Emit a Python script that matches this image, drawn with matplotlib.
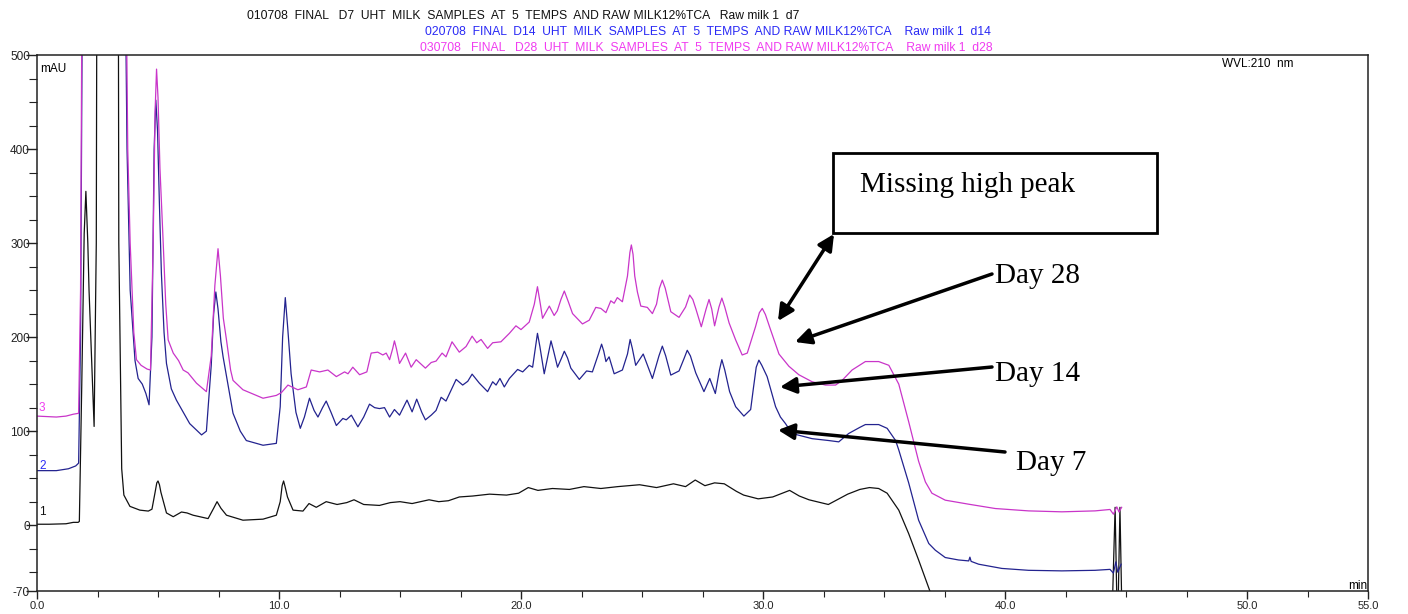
import matplotlib
matplotlib.use("Agg")
import matplotlib.pyplot as plt
from matplotlib.patches import Rectangle
from matplotlib.ticker import MultipleLocator, FixedLocator

# ---------------- data (time in min, absorbance in mAU) ----------------
t_d7 = [0.0, 0.5, 1.2, 1.5, 1.7, 1.75, 1.85, 1.95, 2.02, 2.1, 2.15, 2.36, 2.45, 2.55, 3.3, 3.38,
        3.5, 3.59, 3.84, 4.25, 4.6, 4.75, 4.88, 4.95, 5.0, 5.06, 5.12, 5.35, 5.63, 5.97, 6.2, 6.45,
        7.07, 7.3, 7.44, 7.6, 7.83, 8.51, 9.34, 9.89, 10.05, 10.13, 10.19, 10.26, 10.35, 10.58,
        10.99, 11.24, 11.54, 11.95, 12.4, 12.8, 13.1, 13.5, 14.15, 14.6, 15.0, 15.5, 16.2, 16.6,
        17.0, 17.45, 18.0, 18.7, 19.4, 19.9, 20.3, 20.7, 21.3, 22.0, 22.6, 23.3, 24.0, 24.9, 25.6,
        26.3, 26.8, 27.2, 27.6, 28.0, 28.4, 28.9, 29.2, 29.8, 30.4, 31.1, 31.5, 31.9, 32.7, 33.5,
        34.0, 34.4, 34.78, 35.13, 35.61, 36.02, 36.43, 36.91, 37.2, 44.4, 44.55, 44.65, 44.75,
        44.85]
v_d7 = [1, 1, 1.5, 3, 3, 4, 150, 310, 355, 300, 250, 105, 300, 1500, 1500, 300,
        60, 32, 20, 16, 15, 17, 35, 45, 47, 43, 35, 13, 9, 14, 13, 10.6,
        7, 18, 25, 18, 10.6, 5.3, 6.4, 10.6, 25, 42, 47, 40, 30, 16,
        15, 23, 19, 25, 22, 24, 27, 22, 21, 24, 25, 23, 27, 25,
        26, 30, 31, 33, 32, 34, 40, 37, 39, 38, 41, 39, 41, 43, 40,
        44, 41, 48, 42, 45, 44, 36, 32, 28, 30, 37, 31, 27, 22, 33,
        38, 40, 39, 34, 16, -9, -37, -71, -120, -120, 19, -120, 19,
        -120]

t_d14 = [0.0, 0.8, 1.3, 1.6, 1.72, 1.8, 1.9, 3.6, 3.72, 3.85, 4.05, 4.18, 4.35, 4.5, 4.63, 4.75,
         4.84, 4.91, 4.98, 5.06, 5.14, 5.25, 5.35, 5.55, 5.76, 6.31, 6.8, 7.0, 7.2, 7.3, 7.39, 7.48,
         7.6, 7.69, 8.1, 8.4, 8.65, 9.34, 9.89, 10.05, 10.15, 10.26, 10.36, 10.5, 10.7, 10.88, 11.05,
         11.26, 11.45, 11.61, 11.8, 11.95, 12.15, 12.37, 12.64, 12.78, 12.99, 13.26, 13.5, 13.74,
         13.95, 14.15, 14.36, 14.57, 14.77, 14.98, 15.29, 15.5, 15.69, 15.9, 16.05, 16.29, 16.49,
         16.7, 16.9, 17.1, 17.32, 17.59, 17.8, 17.98, 18.28, 18.62, 18.83, 18.97, 19.13, 19.31,
         19.52, 19.86, 20.07, 20.34, 20.48, 20.6, 20.68, 20.78, 20.96, 21.15, 21.24, 21.35, 21.51,
         21.68, 21.79, 21.92, 22.06, 22.41, 22.71, 22.95, 23.2, 23.33, 23.42, 23.51, 23.64, 23.85,
         24.19, 24.4, 24.51, 24.6, 24.74, 25.05, 25.43, 25.7, 25.84, 25.98, 26.19, 26.53, 26.75,
         26.87, 27.0, 27.22, 27.56, 27.8, 28.03, 28.2, 28.3, 28.42, 28.62, 28.87, 29.21, 29.49,
         29.6, 29.72, 29.83, 29.95, 30.17, 30.52, 30.72, 30.93, 31.2, 32.03, 32.72, 33.13, 33.54,
         34.0, 34.23, 34.78, 35.13, 35.48, 35.61, 36.02, 36.43, 36.85, 37.12, 37.53, 38.08, 38.5,
         38.55, 38.6, 38.91, 39.87, 40.97, 42.35, 43.72, 44.34, 44.48, 44.58, 44.66, 44.8]
v_d14 = [58, 58, 60, 63, 66, 200, 700, 700, 400, 250, 175, 156, 150, 140, 128, 200,
         400, 452, 420, 340, 268, 205, 172, 145, 133, 108, 96, 100, 170, 225, 248, 230,
         195, 179, 119, 100, 90, 85, 87, 126, 200, 242, 210, 161, 120, 103, 115,
         135, 122, 115, 125, 132, 120, 106, 113.5, 112, 117, 104.6, 115, 128.7,
         125, 124, 125, 115, 123, 117, 133, 120.5, 134, 120, 112, 117, 122,
         136, 132, 143, 155, 149, 153, 160.6, 151, 142, 152.5, 149, 156, 147,
         156, 165.6, 163, 170, 168, 190, 204, 190, 161, 185, 196, 185, 168,
         178, 185, 178, 167, 155, 164, 163, 182, 192.5, 185, 174, 179, 161,
         165, 182, 197.5, 188, 170, 182, 156, 180, 190.4, 180, 159.6, 164, 178,
         186, 180, 162, 142, 156, 140, 165, 176, 165, 142, 126, 116, 123,
         145, 168, 175.5, 170, 158, 126, 115, 108, 97.5, 92, 90, 88.6, 97.5,
         104, 107, 107, 103, 90, 80, 45, 5.3, -19.5, -26.6, -34.4, -37, -38,
         -34, -38.5, -41.5, -46, -48, -48.6, -48, -47, -51, -39, -50, -41.5]

t_d28 = [0.0, 0.8, 1.2, 1.5, 1.72, 1.8, 1.9, 3.6, 3.75, 3.85, 4.0, 4.11, 4.3, 4.55, 4.69, 4.8,
         4.88, 4.94, 5.0, 5.08, 5.21, 5.32, 5.42, 5.63, 5.85, 6.04, 6.24, 6.59, 7.0, 7.2, 7.35, 7.48,
         7.58, 7.7, 7.83, 8.0, 8.1, 8.51, 9.34, 9.89, 10.1, 10.37, 10.78, 11.13, 11.33, 11.68, 12.02,
         12.37, 12.71, 12.85, 13.05, 13.33, 13.63, 13.81, 14.08, 14.29, 14.43, 14.57, 14.7, 14.77,
         14.85, 14.98, 15.23, 15.46, 15.67, 16.05, 16.29, 16.49, 16.74, 16.9, 17.15, 17.45, 17.73,
         17.98, 18.17, 18.35, 18.62, 18.83, 19.17, 19.52, 19.79, 20.0, 20.34, 20.55, 20.68, 20.8,
         20.89, 21.17, 21.37, 21.5, 21.65, 21.79, 21.95, 22.13, 22.54, 22.82, 23.09, 23.3, 23.51,
         23.71, 23.85, 23.98, 24.19, 24.4, 24.5, 24.56, 24.63, 24.7, 24.81, 24.95, 25.22, 25.43,
         25.6, 25.72, 25.84, 25.96, 26.19, 26.53, 26.8, 26.97, 27.1, 27.22, 27.45, 27.65, 27.77,
         27.88, 28.0, 28.18, 28.3, 28.42, 28.6, 28.87, 29.14, 29.35, 29.69, 29.85, 29.97, 30.1,
         30.31, 30.66, 31.07, 31.48, 32.03, 32.58, 33.0, 33.27, 33.68, 34.23, 34.78, 35.2, 35.61,
         36.02, 36.43, 36.71, 36.98, 37.53, 38.5, 39.6, 40.97, 42.35, 43.72, 44.34, 44.48, 44.62,
         44.71, 44.82]
v_d28 = [116, 115, 116, 118, 119, 250, 800, 800, 400, 300, 205, 176, 170, 166, 165, 300,
         440, 485, 455, 380, 303, 235, 197, 183, 175, 165, 162, 151, 142, 180, 255, 294,
         265, 220, 197, 165, 154, 144, 135, 138, 141, 149, 144, 147, 165, 163, 165,
         158, 163, 161, 168, 160, 163, 183, 184, 181, 183, 176, 188, 196,
         188, 172, 183, 168, 176, 167, 173, 174.5, 183, 179, 195, 184, 190,
         201, 194, 197.5, 188, 194, 195, 204, 212, 208, 216, 235, 253.6, 235,
         220, 233, 223, 228, 240, 249, 238, 225, 214, 218, 231.6, 230.5, 226,
         238.6, 236, 242, 237.6, 265, 290, 298, 288, 265, 248, 233, 231.6, 225,
         235, 252, 260.6, 252, 227, 221, 232, 244.7, 240, 230.5, 211, 230, 240,
         230, 212, 232, 241.5, 232, 215, 197, 181, 183, 211, 226, 230.5, 224,
         208, 182, 169, 160, 152.5, 149, 149, 154, 165, 174, 174, 170, 150,
         110, 68, 46, 34, 26.6, 22.3, 17.7, 15.2, 14.2, 15.2, 16.7, 11.7, 19.5,
         14, 19]

x_ticks_major = [0, 10, 20, 30, 40, 50, 55]
x_tick_labels = ["0.0", "10.0", "20.0", "30.0", "40.0", "50.0", "55.0"]
y_ticks_major = [-70, 0, 100, 200, 300, 400, 500]
y_tick_labels = ["-70", "0", "100", "200", "300", "400", "500"]

header_lines = [
    "010708  FINAL   D7  UHT  MILK  SAMPLES  AT  5  TEMPS  AND RAW MILK12%TCA   Raw milk 1  d7",
    "020708  FINAL  D14  UHT  MILK  SAMPLES  AT  5  TEMPS  AND RAW MILK12%TCA    Raw milk 1  d14",
    "030708   FINAL   D28  UHT  MILK  SAMPLES  AT  5  TEMPS  AND RAW MILK12%TCA    Raw milk 1  d28",
]
trace_ids = ["1", "2", "3"]

# ---------------- styling ----------------
W, H = 1408, 614
c_black, c_blue, c_mag = "#111111", "#23238f", "#c935c9"
hdr_colors = ["#111111", "#2a2af5", "#f03cf0"]
sans = ["Liberation Sans", "DejaVu Sans"]
serif = ["Liberation Serif", "DejaVu Serif"]

def fx(px):
    return px / W

def fy(py):
    return 1 - py / H

fig = plt.figure(figsize=(W / 100, H / 100), dpi=100)
ax = fig.add_axes([fx(37), fy(591), fx(1368) - fx(37), fy(55) - fy(591)])

ax.plot(t_d7, v_d7, color=c_black, lw=0.9)
ax.plot(t_d14, v_d14, color=c_blue, lw=0.9)
ax.plot(t_d28, v_d28, color=c_mag, lw=0.9)

ax.set_xlim(0, 55)
ax.set_ylim(-70, 500)
ax.xaxis.set_major_locator(FixedLocator(x_ticks_major))
ax.set_xticklabels(x_tick_labels)
ax.xaxis.set_minor_locator(MultipleLocator(2.5))
ax.yaxis.set_major_locator(FixedLocator(y_ticks_major))
ax.set_yticklabels(y_tick_labels)
ax.yaxis.set_minor_locator(MultipleLocator(25))
ax.tick_params(axis="y", which="major", direction="out", length=8, width=1.0,
               labelsize=8.5, colors="#222222", pad=-3)
ax.tick_params(axis="y", which="minor", direction="out", length=6, width=0.8, colors="#222222")
ax.tick_params(axis="x", which="major", direction="out", length=6, width=1.0,
               labelsize=8, colors="#222222", pad=1)
ax.tick_params(axis="x", which="minor", direction="out", length=4, width=0.8, colors="#222222")
for lab in ax.get_xticklabels() + ax.get_yticklabels():
    lab.set_family(sans)
for s in ax.spines.values():
    s.set_linewidth(1.1)
    s.set_color("#222222")

# axis inner labels
ax.text(0.002, 0.985, "mAU", transform=ax.transAxes, ha="left", va="top", fontsize=8.5, family=sans)
fig.text(fx(1367), fy(586), "min", ha="right", va="center", fontsize=8.5, family=sans)
fig.text(fx(1258), fy(64), "WVL:210  nm", ha="center", va="center", fontsize=8.5, family=sans)

# trace numbers
for lab, col, py in zip(trace_ids, [c_black, "#2a2af5", "#f03cf0"], [512, 466, 408]):
    fig.text(fx(39), fy(py), lab, ha="left", va="center", fontsize=8.5, family=sans, color=col)

# header
for line, col, px, py in zip(header_lines, hdr_colors, [247, 425, 420], [16, 32, 48]):
    fig.text(fx(px), fy(py), line, ha="left", va="center", fontsize=8.7, family=sans, color=col)

# annotation box
fig.add_artist(Rectangle((fx(833), fy(233)), fx(1157) - fx(833), fy(153) - fy(233),
                         transform=fig.transFigure, fill=False, lw=2, ec="black"))
fig.text(fx(860), fy(185), "Missing high peak", ha="left", va="center", fontsize=21, family=serif)
fig.text(fx(995), fy(276), "Day 28", ha="left", va="center", fontsize=21, family=serif)
fig.text(fx(995), fy(374), "Day 14", ha="left", va="center", fontsize=21, family=serif)
fig.text(fx(1016), fy(463), "Day 7", ha="left", va="center", fontsize=21, family=serif)

arrow_kw = dict(xycoords="figure fraction", textcoords="figure fraction")
ax.annotate("", xy=(fx(778), fy(321)), xytext=(fx(834), fy(234)),
            arrowprops=dict(arrowstyle="<|-|>", lw=2.5, color="black", mutation_scale=24,
                            shrinkA=0, shrinkB=0), **arrow_kw)
for tail, head in [((992, 274), (795, 342)), ((992, 367), (780, 387)), ((1005, 452), (778, 430))]:
    ax.annotate("", xy=(fx(head[0]), fy(head[1])), xytext=(fx(tail[0]), fy(tail[1])),
                arrowprops=dict(arrowstyle="-|>", lw=2.5, color="black", mutation_scale=24,
                                shrinkA=0, shrinkB=0), **arrow_kw)

fig.savefig("out.png", dpi=100)
